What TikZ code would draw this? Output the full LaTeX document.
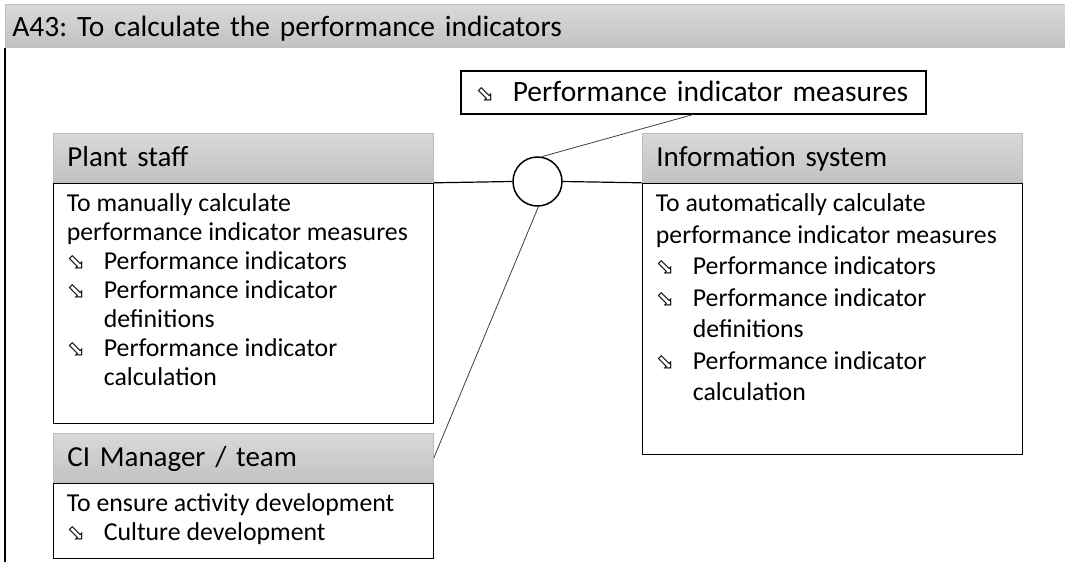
\documentclass[tikz,border=0pt]{standalone}
\usepackage{fontspec}
\setmainfont{Carlito}
\newfontfamily\symfont{DejaVu Sans}
\usetikzlibrary{positioning}
\frenchspacing

\definecolor{headtop}{HTML}{D9D9D9}
\definecolor{headbot}{HTML}{C2C2C2}
\definecolor{headline}{HTML}{BDBDBD}
\definecolor{linkgray}{HTML}{404040}

% bullet and hanging indent
\newcommand{\pibul}{\makebox[37pt][l]{\symfont\fontsize{22}{22}\selectfont ⬂}}
\newcommand{\picont}{\hspace*{37pt}}

\begin{document}
\begin{tikzpicture}[x=1pt,y=-1pt,
  titlebar/.style={draw=headline,line width=0.8pt,top color=headtop,bottom color=headbot,
    anchor=north west,minimum width=1060pt,minimum height=43pt,inner xsep=7pt,
    text width=1046pt,text height=24pt,text depth=2pt,align=left,
    font=\fontsize{29.5}{33}\selectfont},
  lanehead/.style={draw=headline,line width=0.8pt,top color=headtop,bottom color=headbot,
    minimum width=380pt,minimum height=49pt,inner xsep=14pt,inner ysep=0pt,
    text width=352pt,text height=20pt,text depth=2pt,
    align=left,font=\fontsize{29}{33}\selectfont},
  lanebody/.style={draw,line width=1.5pt,minimum width=380pt,inner sep=0pt},
  lanetext/.style={anchor=north west,inner sep=0pt,align=left},
  notebox/.style={draw,line width=1.5pt,anchor=north west,minimum width=465pt,
    minimum height=43pt,inner xsep=15pt,inner ysep=0pt,text width=435pt,
    text height=20pt,text depth=1pt,align=left,
    font=\fontsize{29.5}{33}\selectfont},
  hub/.style={draw,circle,line width=1.5pt,minimum size=49pt,inner sep=0pt},
  link/.style={line width=1.2pt},
  leg/.style={draw=linkgray,line width=0.8pt}]
  \useasboundingbox (0,0) rectangle (1065,562);

  \node[titlebar] (title) at (5,4) {A43: To calculate the performance indicators};
  \draw[line width=1.5pt] (title.south west) -- (title.south west |- 0,562);

  \node[notebox] (pim) at (460,70) {\pibul Performance indicator measures};

  % plant staff
  \node[lanehead,anchor=north west] (pshead) at (53,133) {Plant staff};
  \node[lanebody,minimum height=240pt,below=0pt of pshead] (psbody) {};
  \node[lanetext,font=\fontsize{25.8}{29}\selectfont] (pstext)
    at ([shift={(14,11)}]psbody.north west)
    {To manually calculate\\
     performance indicator measures\\
     \pibul Performance indicators\\
     \pibul Performance indicator\\
     \picont definitions\\
     \pibul Performance indicator\\
     \picont calculation};

  % CI manager
  \node[lanehead,anchor=north west] (cihead) at (53,433) {CI Manager / team};
  \node[lanebody,minimum height=75pt,below=0pt of cihead] (cibody) {};
  \node[lanetext,font=\fontsize{25.8}{29}\selectfont] (citext)
    at ([shift={(14,11)}]cibody.north west)
    {To ensure activity development\\
     \pibul Culture development};

  % information system
  \node[lanehead,anchor=north west] (ishead) at (642,133) {Information system};
  \node[lanebody,minimum height=271pt,below=0pt of ishead] (isbody) {};
  \node[lanetext,font=\fontsize{25.8}{31.5}\selectfont] (istext)
    at ([shift={(14,11)}]isbody.north west)
    {To automatically calculate\\
     performance indicator measures\\
     \pibul Performance indicators\\
     \pibul Performance indicator\\
     \picont definitions\\
     \pibul Performance indicator\\
     \picont calculation};

  \node[hub] (hub) at (537.5,181.5) {};
  \draw[link] (psbody.north east) -- (hub.west);
  \draw[link] (hub.east) -- (isbody.north west);
  \draw[leg] (hub.80) -- (pim.south);
  \draw[leg] (hub.272) -- (cihead.east);
\end{tikzpicture}
\end{document}
